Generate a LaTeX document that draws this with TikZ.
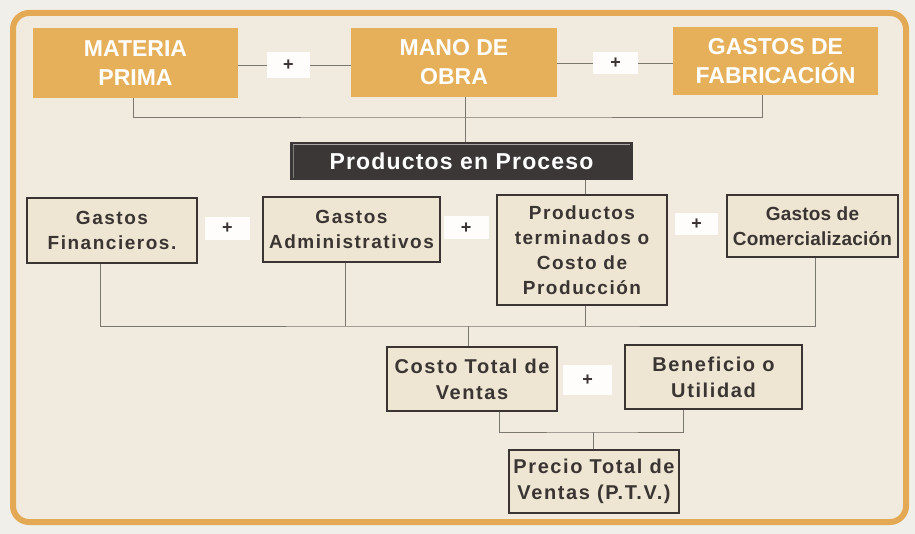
\documentclass[tikz,border=0pt]{standalone}
\usepackage{fontspec}
\setmainfont{Liberation Sans}
\newfontfamily\trackfont[LetterSpace=8]{Liberation Sans}
\newfontfamily\tracknarrow[LetterSpace=1]{Liberation Sans}
\newfontfamily\titlefont[LetterSpace=5]{Liberation Sans}
\definecolor{pagebg}{HTML}{F0EFEA}
\definecolor{framebg}{HTML}{F1EBDF}
\definecolor{frameor}{HTML}{E3A955}
\definecolor{boxor}{HTML}{E6B05A}
\definecolor{boxfill}{HTML}{EEE5D2}
\definecolor{ink}{HTML}{3A3532}
\definecolor{wire}{HTML}{7A7670}
\definecolor{darkbox}{HTML}{3B3737}
\begin{document}
\begin{tikzpicture}[x=1pt,y=-1pt,
  orbox/.style={fill=boxor, draw=none, text=white, align=center,
    font=\fontsize{23}{29}\selectfont\bfseries, inner sep=0pt},
  graybox/.style={fill=boxfill, draw=ink, line width=1.3pt, text=ink, align=center,
    font=\trackfont\fontsize{19}{25}\selectfont\bfseries, inner sep=0pt},
  graybox3/.style={graybox, font=\trackfont\fontsize{20}{26}\selectfont\bfseries},
  plusbox/.style={fill=white!92!framebg, draw=none, text=ink, inner sep=0pt,
    font=\fontsize{18}{18}\selectfont\bfseries},
  wireline/.style={draw=wire, line width=0.9pt}]
\useasboundingbox (0,0) rectangle (915,534);
\fill[pagebg] (0,0) rectangle (915,534);
\draw[frameor, fill=framebg, line width=6pt, rounded corners=16pt] (13,13) rectangle (906,522);

% top row
\node[orbox, minimum width=205pt, minimum height=70pt] (mp) at (135.5,63) {MATERIA\\PRIMA};
\node[orbox, minimum width=206pt, minimum height=69pt] (mo) at (454,62.5) {MANO DE\\OBRA};
\node[orbox, minimum width=205pt, minimum height=68pt] (gf) at (775.5,61) {GASTOS DE\\FABRICACIÓN};
\node[plusbox, minimum width=43pt, minimum height=26pt] (p1) at (288.5,65) {+};
\node[plusbox, minimum width=45pt, minimum height=22pt] (p2) at (615.5,63) {+};
\draw[wireline] (mp.east |- p1) -- (p1.west);
\draw[wireline] (p1.east) -- (mo.west |- p1);
\draw[wireline] (mo.east |- p2) -- (p2.west);
\draw[wireline] (p2.east) -- (gf.west |- p2);

% productos en proceso
\node[fill=darkbox, text=white, minimum width=343pt, minimum height=38pt, inner sep=0pt,
  font=\titlefont\fontsize{23}{23}\selectfont\bfseries] (pp) at (461.5,161) {Productos en Proceso};
\draw[white!55!darkbox, line width=0.8pt] ([shift={(3,3)}]pp.north west) -- ([shift={(-3,3)}]pp.north east);
\draw[white!35!darkbox, line width=0.8pt] ([shift={(4,3)}]pp.north west) -- ([shift={(4,-2)}]pp.south west);

\coordinate (jt) at (465,117);
\draw[wireline] ([xshift=-2.5pt]mp.south) |- (jt) -| ([xshift=-13.5pt]gf.south);
\draw[wireline] (jt |- mo.south) -- (jt |- pp.north);

% second row
\node[graybox, minimum width=170pt, minimum height=65pt] (gfin) at (112,230.5) {Gastos\\Financieros.};
\node[graybox, minimum width=177pt, minimum height=65pt] (gadm) at (351.5,229.5) {Gastos\\Administrativos};
\node[graybox, minimum width=170pt, minimum height=110pt] (pt) at (582,250) {Productos\\terminados o\\Costo de\\Producción};
\node[graybox, font=\tracknarrow\fontsize{19}{25}\selectfont\bfseries, minimum width=171pt, minimum height=62pt] (gcom) at (812.5,226) {Gastos de\\Comercialización};
\node[plusbox, minimum width=45pt, minimum height=23pt] (p3) at (227.5,228.5) {+};
\node[plusbox, minimum width=45pt, minimum height=23pt] (p4) at (466,228) {+};
\node[plusbox, minimum width=43pt, minimum height=22pt] (p5) at (696.5,224.5) {+};

\draw[wireline] ([xshift=3pt]pt.north) -- ([xshift=3pt]pt.north |- pp.south);

\coordinate (jm) at (468,326);
\draw[wireline] ([xshift=-12pt]gfin.south) |- (jm) -| ([xshift=2.5pt]gcom.south);
\draw[wireline] ([xshift=-6.5pt]gadm.south) -- ([xshift=-6.5pt]gadm.south |- jm);
\draw[wireline] ([xshift=3pt]pt.south) -- ([xshift=3pt]pt.south |- jm);

% third row
\node[graybox3, minimum width=170pt, minimum height=64pt] (ctv) at (472,379) {Costo Total de\\Ventas};
\node[graybox3, minimum width=177pt, minimum height=64pt] (ben) at (713.5,377) {Beneficio o\\Utilidad};
\node[plusbox, minimum width=49pt, minimum height=30pt] (p6) at (587.5,380) {+};
\draw[wireline] (jm) -- (jm |- ctv.north);

\coordinate (jb) at (593,432);
\node[graybox3, minimum width=170pt, minimum height=63pt] (ptv) at (594,481.5) {Precio Total de\\Ventas (P.T.V.)};
\draw[wireline] ([xshift=27pt]ctv.south) |- (jb) -| ([xshift=-30.5pt]ben.south);
\draw[wireline] (jb) -- (jb |- ptv.north);
\end{tikzpicture}
\end{document}
